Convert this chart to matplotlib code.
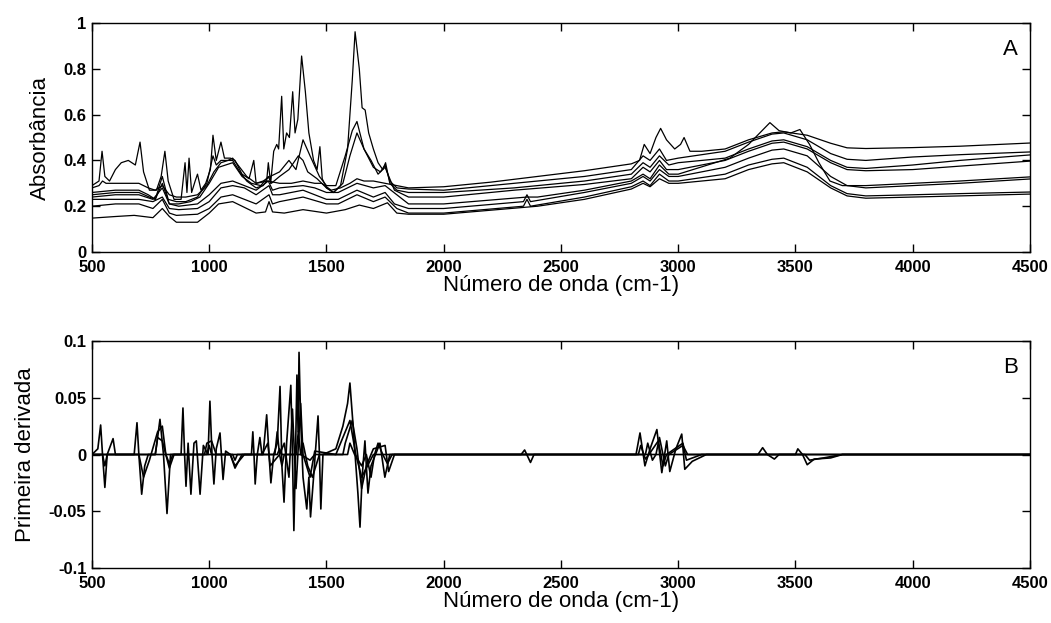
import matplotlib
matplotlib.use("Agg")
import matplotlib.pyplot as plt


# spectra (A) - key points
wn_a = [500, 530, 545, 560, 600, 650, 700, 740, 770, 800, 830, 860, 900, 950, 990, 1020, 1050, 1080, 1100, 1130,
        1160, 1200, 1250, 1300, 1350, 1400, 1450, 1480, 1520, 1560, 1600, 1630, 1660, 1700, 1750, 1800, 1850, 2000,
        2200, 2400, 2600, 2800, 2835, 2855, 2880, 2905, 2925, 2950, 2985, 3010, 3025, 3050, 3100, 3200, 3300, 3400,
        3450, 3550, 3650, 3720, 3800, 4000, 4200, 4500]
abs_a = [0.28, 0.29, 0.31, 0.30, 0.30, 0.30, 0.30, 0.28, 0.27, 0.29, 0.25, 0.24, 0.24, 0.25, 0.29, 0.35, 0.39, 0.40,
         0.41, 0.37, 0.33, 0.30, 0.31, 0.30, 0.30, 0.31, 0.30, 0.30, 0.27, 0.28, 0.30, 0.32, 0.31, 0.31, 0.30, 0.29,
         0.28, 0.285, 0.305, 0.33, 0.355, 0.385, 0.40, 0.47, 0.43, 0.50, 0.54, 0.49, 0.45, 0.47, 0.50, 0.44, 0.44,
         0.45, 0.49, 0.52, 0.525, 0.51, 0.475, 0.455, 0.452, 0.456, 0.462, 0.476]

wn_b = [500, 530, 543, 555, 575, 600, 625, 655, 685, 705, 720, 745, 775, 795, 811, 825, 850, 880, 897, 905, 914,
        925, 940, 950, 965, 985, 1005, 1016, 1030, 1050, 1065, 1090, 1110, 1140, 1170, 1190, 1200, 1230, 1260, 1300,
        1340, 1370, 1400, 1430, 1470, 1500, 1540, 1580, 1610, 1630, 1660, 1700, 1730, 1750, 1770, 1800, 1850, 2000,
        2300, 2600, 2800, 2850, 2880, 2920, 2950, 3000, 3200, 3300, 3400, 3450, 3550, 3650, 3720, 3800, 4000, 4200,
        4500]
abs_b = [0.29, 0.31, 0.44, 0.33, 0.31, 0.36, 0.39, 0.40, 0.38, 0.48, 0.35, 0.27, 0.27, 0.33, 0.44, 0.31, 0.23, 0.23,
         0.39, 0.26, 0.41, 0.26, 0.31, 0.34, 0.27, 0.30, 0.36, 0.51, 0.40, 0.48, 0.41, 0.41, 0.40, 0.34, 0.32, 0.40,
         0.30, 0.31, 0.33, 0.35, 0.40, 0.36, 0.49, 0.42, 0.33, 0.29, 0.29, 0.42, 0.53, 0.57, 0.45, 0.37, 0.35, 0.38,
         0.31, 0.28, 0.275, 0.27, 0.30, 0.33, 0.36, 0.42, 0.40, 0.45, 0.40, 0.41, 0.44, 0.48, 0.515, 0.52, 0.49, 0.43,
         0.405, 0.40, 0.415, 0.425, 0.437]

wn_c = [500, 600, 700, 740, 770, 800, 825, 860, 900, 950, 990, 1016, 1030, 1050, 1080, 1100, 1130, 1160, 1200, 1230,
        1245, 1252, 1262, 1275, 1288, 1296, 1309, 1318, 1330, 1342, 1356, 1366, 1378, 1394, 1410, 1425, 1445, 1460,
        1472, 1482, 1500, 1530, 1560, 1590, 1610, 1622, 1640, 1652, 1665, 1680, 1700, 1720, 1740, 1752, 1770, 1800,
        1850, 2000, 2300, 2600, 2800, 2850, 2880, 2920, 2960, 3000, 3200, 3300, 3400, 3450, 3550, 3650, 3720, 3800,
        4000, 4200, 4500]
abs_c = [0.26, 0.27, 0.27, 0.25, 0.23, 0.33, 0.23, 0.22, 0.22, 0.24, 0.30, 0.42, 0.38, 0.40, 0.40, 0.40, 0.35, 0.31,
         0.28, 0.29, 0.31, 0.39, 0.30, 0.44, 0.47, 0.45, 0.68, 0.45, 0.52, 0.50, 0.70, 0.52, 0.58, 0.856, 0.70, 0.52,
         0.40, 0.36, 0.46, 0.32, 0.28, 0.26, 0.29, 0.45, 0.75, 0.962, 0.80, 0.63, 0.62, 0.52, 0.45, 0.39, 0.36, 0.39,
         0.30, 0.27, 0.26, 0.26, 0.28, 0.31, 0.34, 0.39, 0.37, 0.42, 0.38, 0.39, 0.41, 0.45, 0.485, 0.49, 0.46, 0.40,
         0.37, 0.365, 0.38, 0.40, 0.424]

wn_d = [500, 600, 700, 745, 770, 800, 830, 870, 920, 960, 1000, 1040, 1070, 1100, 1140, 1180, 1220, 1252, 1265, 1300,
        1340, 1380, 1400, 1420, 1460, 1500, 1530, 1570, 1600, 1630, 1660, 1690, 1720, 1750, 1790, 1850, 2000, 2300,
        2600, 2800, 2850, 2880, 2920, 2950, 3000, 3200, 3300, 3400, 3450, 3550, 3650, 3720, 3800, 4000, 4200, 4500]
abs_d = [0.25, 0.26, 0.26, 0.24, 0.23, 0.30, 0.21, 0.21, 0.22, 0.24, 0.30, 0.37, 0.38, 0.39, 0.33, 0.30, 0.29, 0.33,
         0.30, 0.33, 0.36, 0.42, 0.40, 0.35, 0.32, 0.28, 0.26, 0.30, 0.42, 0.52, 0.45, 0.40, 0.34, 0.37, 0.27, 0.24,
         0.24, 0.27, 0.295, 0.32, 0.37, 0.35, 0.40, 0.36, 0.36, 0.40, 0.44, 0.475, 0.48, 0.45, 0.39, 0.36, 0.355,
         0.36, 0.375, 0.397]

wn_e = [500, 600, 700, 760, 800, 830, 870, 950, 1000, 1050, 1100, 1150, 1200, 1252, 1270, 1300, 1400, 1450, 1500,
        1550, 1630, 1700, 1750, 1800, 1850, 2000, 2355, 2400, 2600, 2800, 2850, 2880, 2920, 2960, 3000, 3220, 3300,
        3391, 3430, 3480, 3519, 3560, 3600, 3647, 3700, 3800, 4000, 4200, 4500]
abs_e = [0.24, 0.25, 0.25, 0.23, 0.28, 0.21, 0.20, 0.21, 0.25, 0.30, 0.31, 0.29, 0.27, 0.31, 0.27, 0.28, 0.29, 0.28,
         0.26, 0.26, 0.30, 0.28, 0.29, 0.25, 0.21, 0.21, 0.24, 0.24, 0.27, 0.31, 0.34, 0.32, 0.38, 0.34, 0.34, 0.41,
         0.47, 0.565, 0.53, 0.52, 0.535, 0.47, 0.39, 0.31, 0.29, 0.29, 0.30, 0.31, 0.328]

wn_f = [500, 600, 700, 760, 800, 830, 870, 950, 1000, 1050, 1100, 1150, 1200, 1255, 1270, 1300, 1400, 1500, 1550,
        1630, 1700, 1750, 1790, 1850, 2000, 2340, 2355, 2370, 2600, 2800, 2850, 2880, 2920, 2960, 3000, 3200, 3300,
        3400, 3450, 3550, 3650, 3720, 3800, 4000, 4200, 4500]
abs_f = [0.23, 0.23, 0.23, 0.22, 0.24, 0.19, 0.185, 0.19, 0.22, 0.28, 0.29, 0.28, 0.25, 0.29, 0.25, 0.25, 0.27, 0.23,
         0.23, 0.27, 0.24, 0.26, 0.21, 0.19, 0.19, 0.22, 0.25, 0.22, 0.26, 0.30, 0.33, 0.31, 0.36, 0.33, 0.33, 0.37,
         0.41, 0.445, 0.45, 0.42, 0.33, 0.29, 0.28, 0.29, 0.30, 0.319]

wn_g = [500, 600, 700, 760, 800, 830, 860, 950, 1000, 1050, 1100, 1150, 1200, 1255, 1270, 1300, 1400, 1500, 1550,
        1630, 1700, 1750, 1800, 1850, 2000, 2340, 2355, 2370, 2600, 2800, 2850, 2880, 2920, 2960, 3000, 3200, 3300,
        3400, 3450, 3550, 3650, 3720, 3800, 4000, 4200, 4500]
abs_g = [0.20, 0.21, 0.21, 0.19, 0.23, 0.17, 0.16, 0.165, 0.19, 0.24, 0.25, 0.23, 0.21, 0.25, 0.21, 0.22, 0.24, 0.21,
         0.21, 0.25, 0.22, 0.24, 0.19, 0.17, 0.17, 0.20, 0.23, 0.20, 0.24, 0.285, 0.31, 0.29, 0.34, 0.31, 0.31, 0.34,
         0.38, 0.405, 0.41, 0.37, 0.29, 0.255, 0.245, 0.25, 0.255, 0.262]

wn_h = [500, 600, 680, 760, 800, 830, 860, 950, 1000, 1040, 1100, 1150, 1200, 1240, 1255, 1270, 1320, 1400, 1500,
        1580, 1640, 1700, 1760, 1800, 1850, 2000, 2400, 2600, 2800, 2850, 2880, 2920, 2960, 3000, 3200, 3300, 3400,
        3450, 3550, 3650, 3720, 3800, 4000, 4200, 4500]
abs_h = [0.148, 0.155, 0.16, 0.15, 0.19, 0.155, 0.13, 0.13, 0.17, 0.21, 0.22, 0.195, 0.17, 0.175, 0.22, 0.175, 0.17,
         0.185, 0.17, 0.185, 0.205, 0.19, 0.215, 0.17, 0.165, 0.165, 0.20, 0.23, 0.275, 0.30, 0.285, 0.32, 0.30,
         0.30, 0.32, 0.36, 0.385, 0.39, 0.35, 0.28, 0.245, 0.235, 0.24, 0.245, 0.253]

# first derivative (B)
wn_d1 = [500, 1230, 1245, 1255, 1263, 1275, 1290, 1302, 1310, 1319, 1330, 1348, 1355, 1361, 1368, 1374, 1379, 1383,
         1390, 1400, 1416, 1425, 1432, 1445, 1464, 1470, 1476, 1485, 1540, 1570, 1590, 1600, 1612, 1622, 1634, 1643,
         1652, 1664, 1670, 1677, 1690, 1728, 1749, 1770, 2820, 2837, 2858, 2880, 2909, 2930, 2951, 2964, 2990, 3015,
         3028, 3060, 3120, 4500]
der_d1 = [0, 0, 0.035, 0, -0.025, 0.0, 0.01, 0.060, -0.01, -0.042, 0.01, 0.061, 0.0, -0.067, 0.0, 0.070, 0.02, 0.090,
          0.03, -0.02, -0.048, -0.02, -0.055, -0.02, 0.034, 0.0, -0.048, 0.0, 0.005, 0.025, 0.045, 0.063, 0.03, 0.0,
          -0.034, -0.064, -0.02, 0.012, -0.01, -0.034, -0.01, 0.01, -0.02, 0.0, 0, 0.019, -0.01, 0.005, 0.022, -0.016,
          0.012, -0.015, 0.005, 0.018, -0.013, -0.006, 0, 0]

wn_d2 = [500, 525, 537, 545, 555, 565, 590, 600, 680, 692, 700, 712, 725, 740, 770, 780, 790, 805, 820, 835, 880,
         888, 895, 901, 910, 922, 935, 945, 961, 975, 995, 1003, 1012, 1020, 1030, 1046, 1052, 1059, 1070, 1090,
         1110, 1140, 1180, 1186, 1191, 1196, 1205, 1216, 1225, 1250, 1260, 1300, 1320, 1340, 1355, 1370, 1390, 1400,
         1430, 1450, 1540, 1600, 1625, 1650, 1700, 2330, 2345, 2370, 2385, 4500]
der_d2 = [0, 0.005, 0.026, 0.0, -0.029, 0, 0.014, 0, 0, 0.028, 0.0, -0.035, -0.01, 0, 0.0, 0.015, 0.031, 0.0, -0.052,
          0.0, 0.0, 0.041, 0.0, -0.028, 0.01, -0.035, 0.01, 0.012, -0.035, 0.008, 0.0, 0.047, 0.0, -0.026, 0.005,
          0.019, 0.0, -0.022, 0.003, 0, -0.012, 0, 0, 0.02, 0.0, -0.026, 0.0, 0.015, 0, 0.01, -0.01, 0.0, 0.01, -0.02,
          0.04, -0.03, 0.045, 0.0, -0.02, 0.003, 0.0, 0.03, 0.0, -0.02, 0.0, 0.0, 0.004, -0.007, 0, 0]

wn_d3 = [500, 700, 720, 745, 780, 800, 815, 830, 850, 980, 990, 1010, 1030, 1090, 1110, 1150, 1290, 1300, 1310, 1390,
         1400, 1420, 1440, 1470, 1570, 1580, 1610, 1630, 1650, 1670, 1700, 1750, 1765, 1790, 2830, 2840, 2860, 2875,
         2915, 2935, 2950, 3020, 3035, 3100, 3340, 3360, 3380, 3410, 3430, 3500, 3510, 3530, 3550, 3580, 3650, 3700,
         4500]
der_d3 = [0, 0.0, -0.02, -0.005, 0.02, 0.025, 0.0, -0.012, 0, 0, 0.01, 0.012, 0.0, 0, -0.01, 0, 0, 0.005, 0, 0, 0.01,
          -0.01, -0.02, 0.0, 0, 0.01, 0.03, 0.005, -0.03, -0.01, 0.005, 0.008, -0.015, 0, 0, 0.008, -0.004, 0, 0.012,
          -0.01, 0, 0.01, -0.005, 0, 0, 0.006, 0.0, -0.004, 0.0, 0, 0.005, 0, -0.009, -0.004, -0.003, 0, 0]

wn_d4 = [500, 545, 555, 565, 770, 780, 800, 815, 830, 845, 990, 1000, 1010, 1100, 1110, 1120, 1280, 1290, 1300, 1310,
         1320, 1370, 1380, 1390, 1430, 1450, 1590, 1600, 1620, 1650, 1670, 1690, 1705, 1720, 1740, 1760, 1780, 2860,
         2870, 2890, 2905, 2920, 2945, 2960, 3020, 3040, 3540, 3560, 3620, 3700, 4500]
der_d4 = [0, 0, -0.01, 0, 0, 0.015, 0.012, 0, -0.008, 0, 0, 0.008, 0, 0, -0.005, 0, 0, 0.02, 0, -0.01, 0, 0, 0.02, 0,
          -0.005, 0, 0, 0.01, 0, -0.01, 0, -0.02, 0, 0.01, 0, -0.008, 0, 0, 0.01, -0.005, 0, 0.015, -0.01, 0, 0.008, 0,
          0, -0.005, -0.003, 0, 0]


def style_axes(ax, yticks, ylabels, ylim, ylabel, letter):
    ax.set_xlim(500, 4500)
    ax.set_ylim(*ylim)
    ax.set_xticks(range(500, 4501, 500))
    ax.set_xticklabels([str(v) for v in range(500, 4501, 500)],
                       fontfamily="Liberation Sans", fontweight="bold", fontsize=12)
    ax.set_yticks(yticks)
    ax.set_yticklabels(ylabels, fontfamily="Liberation Sans", fontweight="bold", fontsize=12)
    ax.tick_params(direction="in", top=True, right=True, length=6, width=1)
    ax.tick_params(axis="x", pad=6)
    ax.tick_params(axis="y", pad=4)
    for sp in ax.spines.values():
        sp.set_linewidth(1)
    ax.set_xlabel("Número de onda (cm-1)", fontfamily="Liberation Sans", fontsize=16, labelpad=0)
    ax.set_ylabel(ylabel, fontfamily="Liberation Sans", fontsize=16, labelpad=9)
    ax.text(0.979, 0.885, letter, transform=ax.transAxes, ha="center", va="center",
            fontfamily="Liberation Sans", fontsize=16)


def main():
    fig = plt.figure(figsize=(10.51, 6.23), dpi=100)
    ax1 = fig.add_axes([0.0875, 0.5955, 0.8925, 0.3675])
    ax2 = fig.add_axes([0.0875, 0.0883, 0.8925, 0.3643])

    spectra = [(wn_a, abs_a), (wn_b, abs_b), (wn_c, abs_c), (wn_d, abs_d),
               (wn_e, abs_e), (wn_f, abs_f), (wn_g, abs_g), (wn_h, abs_h)]
    for wn, ab in spectra:
        ax1.plot(wn, ab, color="black", lw=0.9)

    derivs = [(wn_d1, der_d1), (wn_d2, der_d2), (wn_d3, der_d3), (wn_d4, der_d4)]
    for wn, dv in derivs:
        ax2.plot(wn, dv, color="black", lw=1.2)

    style_axes(ax1, [0, 0.2, 0.4, 0.6, 0.8, 1], ["0", "0.2", "0.4", "0.6", "0.8", "1"],
               (0, 1), "Absorbância", "A")
    style_axes(ax2, [-0.1, -0.05, 0, 0.05, 0.1], ["-0.1", "-0.05", "0", "0.05", "0.1"],
               (-0.1, 0.1), "Primeira derivada", "B")

    fig.savefig("out.png", dpi=100)


if __name__ == "__main__":
    main()
